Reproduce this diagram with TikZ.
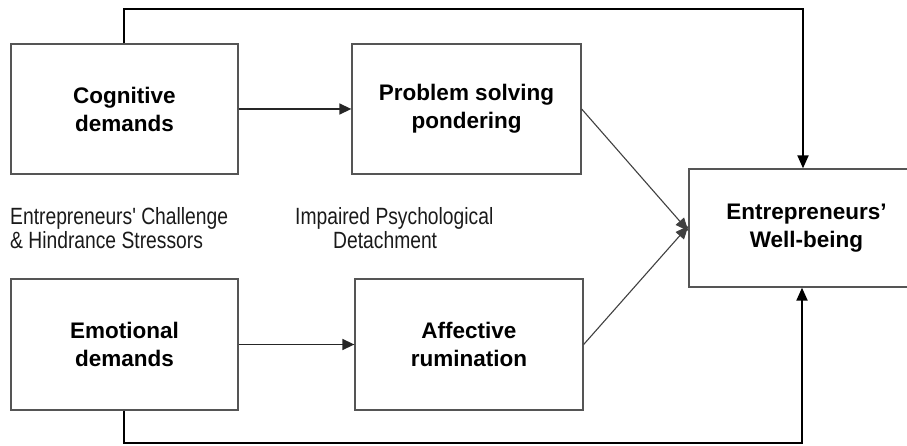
\documentclass[tikz,border=0pt]{standalone}
\usepackage{fontspec}
\setmainfont{Liberation Sans}
\newfontfamily\narrowsans[FakeStretch=0.82]{Liberation Sans}
\usetikzlibrary{arrows.meta}
\definecolor{boxgray}{HTML}{555555}
\definecolor{txt}{HTML}{1A1A1A}
\tikzset{
  box/.style={draw=boxgray, line width=1.3pt, inner sep=0pt, align=center,
              font=\bfseries\fontsize{22.5}{28}\selectfont, text=black},
  lab/.style={anchor=base west, inner sep=0pt, text=txt,
              font=\narrowsans\fontsize{23.5}{24}\selectfont},
  elbow/.style={draw=black, line width=2pt, -{Triangle[length=13pt,width=11pt]}},
  harrow/.style={draw=black!85, line width=1.5pt, -{Triangle[length=12pt,width=11pt]}},
  diag/.style={draw=black!75, line width=1.1pt, -{Triangle[length=13pt,width=11pt]}}
}
\begin{document}
\begin{tikzpicture}[x=1pt,y=-1pt]
\useasboundingbox (0,0) rectangle (907,446);
\clip (0,0) rectangle (907,446);
\node[box, minimum width=227pt, minimum height=130pt] (cog) at (124.5,109) {Cognitive\\demands};
\node[box, minimum width=229pt, minimum height=130pt] (prob) at (466.5,109) {Problem solving\\pondering};
\node[box, minimum width=227pt, minimum height=131pt] (emo) at (124.5,344.5) {Emotional\\demands};
\node[box, minimum width=228pt, minimum height=131pt] (aff) at (469,344.5) {Affective\\rumination};
\node[box, minimum width=235pt, minimum height=118pt] (wb) at (806.5,228) {Entrepreneurs'\\Well-being};

\node[lab] (l1a) at (10,225) {Entrepreneurs' Challenge};
\node[lab] (l1b) at (10,249) {\& Hindrance Stressors};
\node[lab] (l2a) at (295,225) {Impaired Psychological};
\node[lab] (l2b) at (333,249) {Detachment};

\coordinate (t1) at (124,9);
\coordinate (t2) at (803,9);
\coordinate (b1) at (124,443);
\coordinate (b2) at (802,443);

\draw[elbow] (cog.north -| t1) -- (t1) -- (t2) -- (t2 |- wb.north);
\draw[elbow] (emo.south -| b1) -- (b1) -- (b2) -- (b2 |- wb.south);

\draw[harrow] (cog.east) -- (prob.west);
\draw[harrow] (emo.east) -- (aff.west);

\draw[diag] (prob.east) -- ([yshift=-3pt]wb.west);
\draw[diag] (aff.east) -- ([yshift=2pt]wb.west);
\end{tikzpicture}
\end{document}
